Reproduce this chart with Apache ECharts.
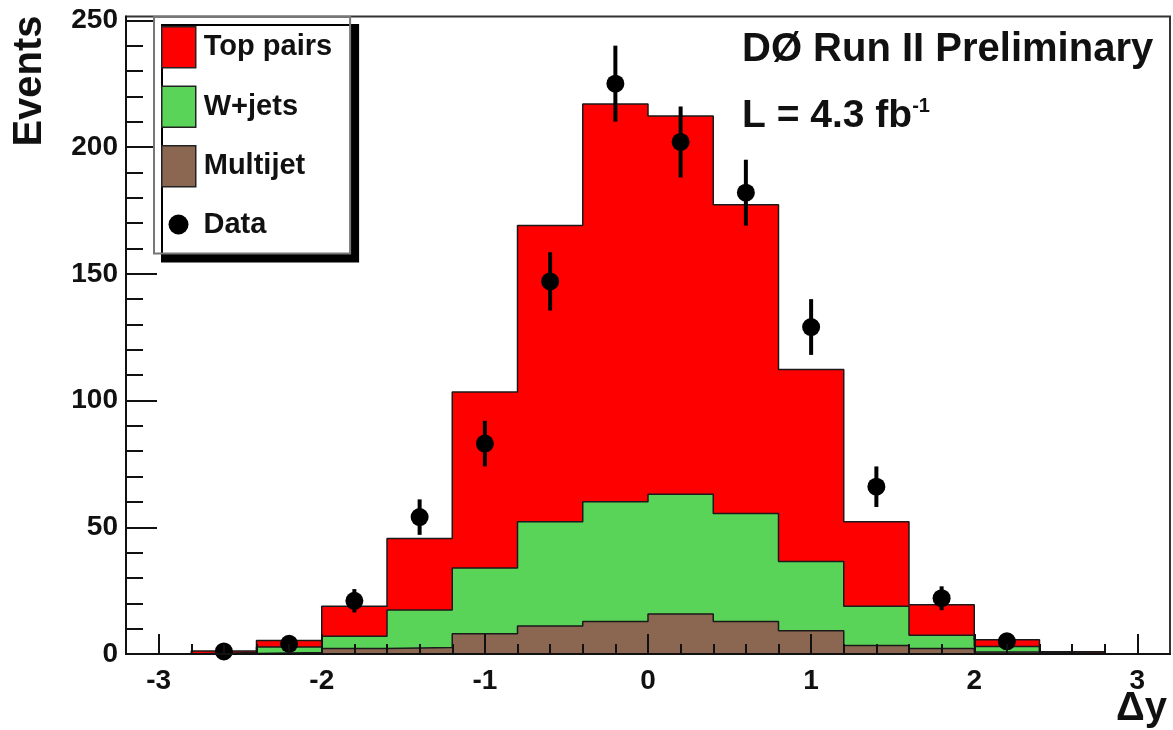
<!DOCTYPE html>
<html>
<head>
<meta charset="utf-8">
<script src="https://cdn.jsdelivr.net/npm/echarts@6/dist/echarts.min.js"></script>
<style>html,body{margin:0;padding:0;background:#fff}#c{width:1173px;height:730px}</style>
</head>
<body>
<div id="c"></div>
<script>
// ---- data ----
const binEdges = [-2.8, -2.4, -2.0, -1.6, -1.2, -0.8, -0.4, 0.0, 0.4, 0.8, 1.2, 1.6, 2.0, 2.4, 2.8];
const multijet = [0.2, 0.6, 2.2, 2.6, 8.0, 11.0, 12.8, 15.8, 12.8, 9.2, 3.4, 2.2, 0.8, 0.1];
const wjets    = [0.4, 2.2, 4.8, 14.8, 25.9, 41.2, 47.3, 47.2, 42.6, 27.3, 15.4, 5.2, 2.2, 0.3];
const topPairs = [0.6, 2.5, 11.8, 28.2, 69.5, 116.8, 156.9, 149.2, 121.8, 75.7, 33.4, 12.0, 2.6, 0.5];
const dataX   = [-2.6, -2.2, -1.8, -1.4, -1.0, -0.6, -0.2, 0.2, 0.6, 1.0, 1.4, 1.8, 2.2];
const dataY   = [1, 4, 21, 54, 83, 147, 225, 202, 182, 129, 66, 22, 5];
const dataErr = [1, 2, 4.6, 7, 9, 11.5, 15, 14, 13, 11, 8, 4.7, 2.2];
const xMajorTicks = [-3, -2, -1, 0, 1, 2, 3];
const xMinorTicks = [-2.8, -2.6, -2.4, -2.2, -1.8, -1.6, -1.4, -1.2, -0.8, -0.6, -0.4, -0.2,
                     0.2, 0.4, 0.6, 0.8, 1.2, 1.4, 1.6, 1.8, 2.2, 2.4, 2.6, 2.8];
const yMajorTicks = [0, 50, 100, 150, 200, 250];
const yMinorTicks = [10, 20, 30, 40, 60, 70, 80, 90, 110, 120, 130, 140, 160, 170, 180, 190, 210, 220, 230, 240];
const labels = { top: 'Top pairs', w: 'W+jets', mj: 'Multijet', data: 'Data' };
const texts = { title: 'DØ Run II Preliminary', lumi: 'L = 4.3 fb', lumiExp: '-1', xName: 'Δy', yName: 'Events' };

// ---- build ----
const FONT = "'Liberation Sans', Arial, Helvetica, sans-serif";
const RED = '#ff0000', GREEN = '#59d459', BROWN = '#8b6752';

const cumMJ = multijet.slice();
const cumW = multijet.map((v, i) => v + wjets[i]);
const cumTop = multijet.map((v, i) => v + wjets[i] + topPairs[i]);

function stepData(vals) {
  const n = binEdges.length - 1;
  const pts = [[binEdges[0], 0]];
  vals.forEach((v, i) => pts.push([binEdges[i], v]));
  pts.push([binEdges[n], vals[n - 1]]);
  pts.push([binEdges[n], 0]);
  return pts;
}
function histSeries(name, vals, color) {
  return {
    name, type: 'line', step: 'end', data: stepData(vals),
    symbol: 'none', showSymbol: false, color: color,
    itemStyle: { color: color },
    lineStyle: { color: '#1a1a1a', width: 1.5 },
    areaStyle: { color: color, opacity: 1 },
    z: 2, silent: true, animation: false
  };
}

const tickLine = { color: '#111', width: 2 };
const option = {
  animation: false,
  backgroundColor: '#fff',
  grid: { left: 126, right: 3, top: 16.5, bottom: 76, show: true, borderColor: '#333', borderWidth: 2,
          backgroundColor: 'transparent', containLabel: false, outerBoundsMode: 'none' },
  title: [
    { text: texts.title, left: 742, top: 30, padding: 0,
      textStyle: { fontSize: 40, fontWeight: 'bold', fontFamily: FONT, color: '#111', lineHeight: 40 } },
    { text: '{m|' + texts.lumi + '}{s|' + texts.lumiExp + '}', left: 742, top: 96, padding: 0,
      textStyle: { rich: {
        m: { fontSize: 39, fontWeight: 'bold', fontFamily: FONT, color: '#111', lineHeight: 40 },
        s: { fontSize: 20, fontWeight: 'bold', fontFamily: FONT, color: '#111', lineHeight: 20, verticalAlign: 'top' }
      } } }
  ],
  graphic: [
    { type: 'text', x: 30, y: 81, rotation: Math.PI / 2, z: 20,
      style: { text: texts.yName, fontSize: 40, fontWeight: 'bold', fontFamily: FONT, fill: '#111',
               align: 'center', verticalAlign: 'middle' } },
    { type: 'text', x: 1167, y: 709, z: 20,
      style: { text: texts.xName, fontSize: 40, fontWeight: 'bold', fontFamily: FONT, fill: '#111',
               align: 'right', verticalAlign: 'middle' } }
  ],
  legend: [
    { data: [
        { name: labels.top, icon: 'rect', itemStyle: { color: RED, borderColor: '#222', borderWidth: 1.5 } },
        { name: labels.w, icon: 'rect', itemStyle: { color: GREEN, borderColor: '#222', borderWidth: 1.5 } },
        { name: labels.mj, icon: 'rect', itemStyle: { color: BROWN, borderColor: '#222', borderWidth: 1.5 } }
      ],
      orient: 'vertical', left: 154, top: 17, padding: [9, 18, 66, 7],
      itemWidth: 34, itemHeight: 41, itemGap: 17, selectedMode: false,
      backgroundColor: '#fff', borderColor: '#777', borderWidth: 2,
      shadowColor: '#000', shadowBlur: 0, shadowOffsetX: 8, shadowOffsetY: 8,
      textStyle: { fontSize: 29, fontWeight: 'bold', fontFamily: FONT, color: '#111', padding: [0, 0, 0, 3] },
      z: 10 },
    { data: [ { name: labels.data, icon: 'circle', itemStyle: { color: '#000', opacity: 1 } } ],
      orient: 'vertical', left: 168.5, top: 210, padding: 0,
      itemWidth: 34, itemHeight: 20, selectedMode: false,
      textStyle: { fontSize: 29, fontWeight: 'bold', fontFamily: FONT, color: '#111', padding: [0, 0, 0, 3] },
      z: 12 }
  ],
  xAxis: [
    { type: 'value', min: -3.2, max: 3.2, position: 'bottom', z: 5,
      axisLine: { show: true, onZero: false, lineStyle: tickLine },
      axisTick: { show: true, inside: true, length: 20, customValues: xMajorTicks, lineStyle: tickLine },
      axisLabel: { show: true, customValues: xMajorTicks, margin: 13, fontSize: 28, fontWeight: 'bold', fontFamily: FONT, color: '#111' },
      splitLine: { show: false } },
    { type: 'value', min: -3.2, max: 3.2, position: 'bottom', z: 5,
      axisLine: { show: false, onZero: false },
      axisTick: { show: true, inside: true, length: 10, customValues: xMinorTicks, lineStyle: tickLine },
      axisLabel: { show: false }, splitLine: { show: false } }
  ],
  yAxis: [
    { type: 'value', min: 0, max: 251.5, position: 'left', z: 5,
      axisLine: { show: true, onZero: false, lineStyle: tickLine },
      axisTick: { show: true, inside: true, length: 31, customValues: yMajorTicks, lineStyle: tickLine },
      axisLabel: { show: true, customValues: yMajorTicks, margin: 8, fontSize: 28, fontWeight: 'bold', fontFamily: FONT, color: '#111' },
      splitLine: { show: false } },
    { type: 'value', min: 0, max: 251.5, position: 'left', z: 5,
      axisLine: { show: false, onZero: false },
      axisTick: { show: true, inside: true, length: 17, customValues: yMinorTicks, lineStyle: tickLine },
      axisLabel: { show: false }, splitLine: { show: false } }
  ],
  series: [
    histSeries(labels.top, cumTop, RED),
    histSeries(labels.w, cumW, GREEN),
    histSeries(labels.mj, cumMJ, BROWN),
    { name: 'errors', type: 'custom', z: 3, silent: true,
      data: dataX.map((x, i) => [x, dataY[i], dataErr[i]]),
      encode: { x: 0, y: 1 },
      renderItem: function (params, api) {
        const x = api.value(0), y = api.value(1), e = api.value(2);
        const p1 = api.coord([x, y - e]), p2 = api.coord([x, y + e]);
        return { type: 'line', shape: { x1: p1[0], y1: p1[1], x2: p2[0], y2: p2[1] },
                 style: { stroke: '#000', lineWidth: 4 } };
      } },
    { name: labels.data, type: 'scatter', z: 4, silent: true,
      data: dataX.map((x, i) => [x, dataY[i]]),
      symbol: 'circle', symbolSize: 18, itemStyle: { color: '#000', opacity: 1 } }
  ]
};
const chart = echarts.init(document.getElementById('c'), null, { renderer: 'canvas' });
chart.setOption(option);
</script>
</body>
</html>
